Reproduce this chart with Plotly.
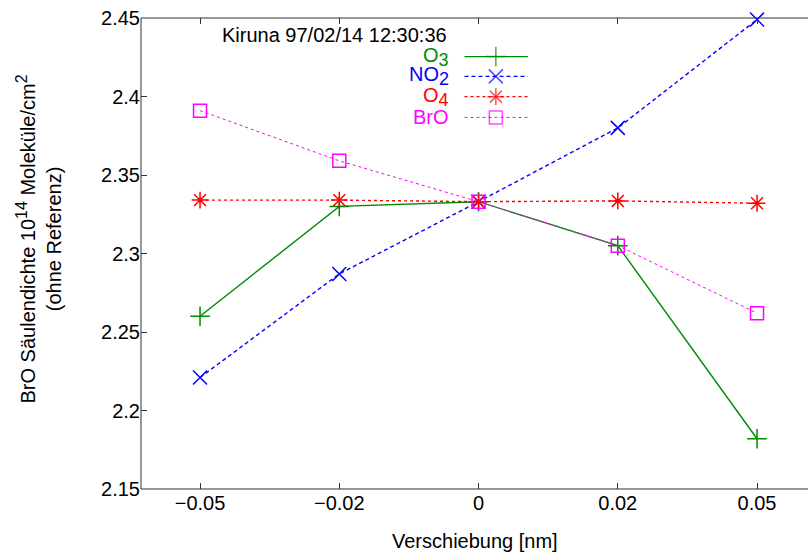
import plotly.graph_objects as go

# Wavelength shift applied to the cross sections (evenly spaced categories)
shifts = ["\u22120.05", "\u22120.02", "0", "0.02", "0.05"]
positions = [0, 1, 2, 3, 4]

# Retrieved BrO column for each shifted cross section (10^14 molecules/cm^2)
o3 = [2.260, 2.330, 2.333, 2.305, 2.182]
no2 = [2.221, 2.287, 2.333, 2.380, 2.449]
o4 = [2.334, 2.334, 2.333, 2.3335, 2.332]
bro = [2.391, 2.359, 2.333, 2.305, 2.262]

y_ticks = [2.15, 2.2, 2.25, 2.3, 2.35, 2.4, 2.45]
y_ticktext = ["2.15", "2.2", "2.25", "2.3", "2.35", "2.4", "2.45"]

X_RANGE = [-0.424, 4.366]
Y_RANGE = [2.15, 2.45]

FONT = "Liberation Sans, Arial, sans-serif"
FS = 20
FRAME = "#333333"


def sub(t):
    return f"<sub><span style='font-size:{FS - 2}px'>{t}</span></sub>"


def sup(t):
    return f"<sup><span style='font-size:{FS - 4}px'>{t}</span></sup>"


def fx(f):
    # fraction of the plot width -> x axis units
    return X_RANGE[0] + f * (X_RANGE[1] - X_RANGE[0])


def fy(f):
    # fraction of the plot height -> y axis units
    return Y_RANGE[0] + f * (Y_RANGE[1] - Y_RANGE[0])


series = [
    ("O" + sub("3"), o3, "#008a00", "solid", "cross-thin", 1.4),
    ("NO" + sub("2"), no2, "#0000ff", "4px,3px", "x-thin", 1.4),
    ("O" + sub("4"), o4, "#ff0000", "dot", "asterisk-open", 1.4),
    ("BrO", bro, "#ff00ff", "dot", "square-open", 1.0),
]

fig = go.Figure()

for name, vals, color, dash, sym, lw in series:
    fig.add_trace(go.Scatter(
        x=positions, y=vals, mode="lines+markers", name=name,
        line=dict(color=color, width=lw, dash=dash),
        marker=dict(symbol=sym, size=14 if sym != "square-open" else 13,
                    color=color, line=dict(color=color, width=1.5)),
        showlegend=False, cliponaxis=False,
    ))

# Key: sample line with its marker, label right-aligned to the left
key_rows = [0.918, 0.876, 0.833, 0.789]
for (name, vals, color, dash, sym, lw), ky in zip(series, key_rows):
    fig.add_trace(go.Scatter(
        x=[fx(0.485), fx(0.532), fx(0.58)], y=[fy(ky)] * 3, mode="lines+markers",
        showlegend=False, hoverinfo="skip",
        line=dict(color=color, width=lw, dash=dash),
        marker=dict(symbol=sym, size=[0, 14 if sym != "square-open" else 13, 0],
                    color=color, line=dict(color=color, width=1.5)),
    ))
    fig.add_annotation(x=fx(0.465), y=fy(ky), text=name,
                       showarrow=False, xanchor="right", yanchor="middle",
                       font=dict(family=FONT, size=FS, color=color))

fig.add_annotation(x=fx(0.118), y=fy(0.963),
                   text="Kiruna 97/02/14 12:30:36", showarrow=False,
                   xanchor="left", yanchor="middle",
                   font=dict(family=FONT, size=FS, color="black"))

# Y-axis title, two lines, rotated
fig.add_annotation(
    x=0, y=0.5, xref="paper", yref="paper", xanchor="center", yanchor="middle",
    xshift=-103, yshift=14, textangle=-90, showarrow=False,
    text="BrO Säulendichte 10" + sup("14") + " Moleküle/cm" + sup("2")
         + "<br>(ohne Referenz)",
    font=dict(family=FONT, size=FS, color="black"),
)

# X-axis title
fig.add_annotation(
    x=0.5, y=0, xref="paper", yref="paper", xanchor="center", yanchor="middle",
    yshift=-52, showarrow=False, text="Verschiebung [nm]",
    font=dict(family=FONT, size=FS, color="black"),
)

# Frame: bottom, top and left edges only (open on the right)
for x0, y0, x1, y1 in [(0, 0, 1, 0), (0, 1, 1, 1), (0, 0, 0, 1)]:
    fig.add_shape(type="line", xref="paper", yref="paper",
                  x0=x0, y0=y0, x1=x1, y1=y1,
                  line=dict(color=FRAME, width=1), layer="above")

fig.update_layout(
    width=808, height=552,
    margin=dict(l=141, r=0, t=18, b=63),
    paper_bgcolor="white", plot_bgcolor="white",
    font=dict(family=FONT, size=FS, color="black"),
    xaxis=dict(
        range=X_RANGE, tickvals=positions, ticktext=shifts,
        showgrid=False, zeroline=False, showline=False,
        mirror="ticks", ticks="inside", ticklen=6,
        tickcolor=FRAME, tickfont=dict(family=FONT, size=FS),
    ),
    yaxis=dict(
        range=Y_RANGE, tickvals=y_ticks, ticktext=y_ticktext,
        showgrid=False, zeroline=False, showline=False, mirror=False,
        ticks="inside", ticklen=6,
        tickcolor=FRAME, tickfont=dict(family=FONT, size=FS),
    ),
)

fig.write_html("out.html")
